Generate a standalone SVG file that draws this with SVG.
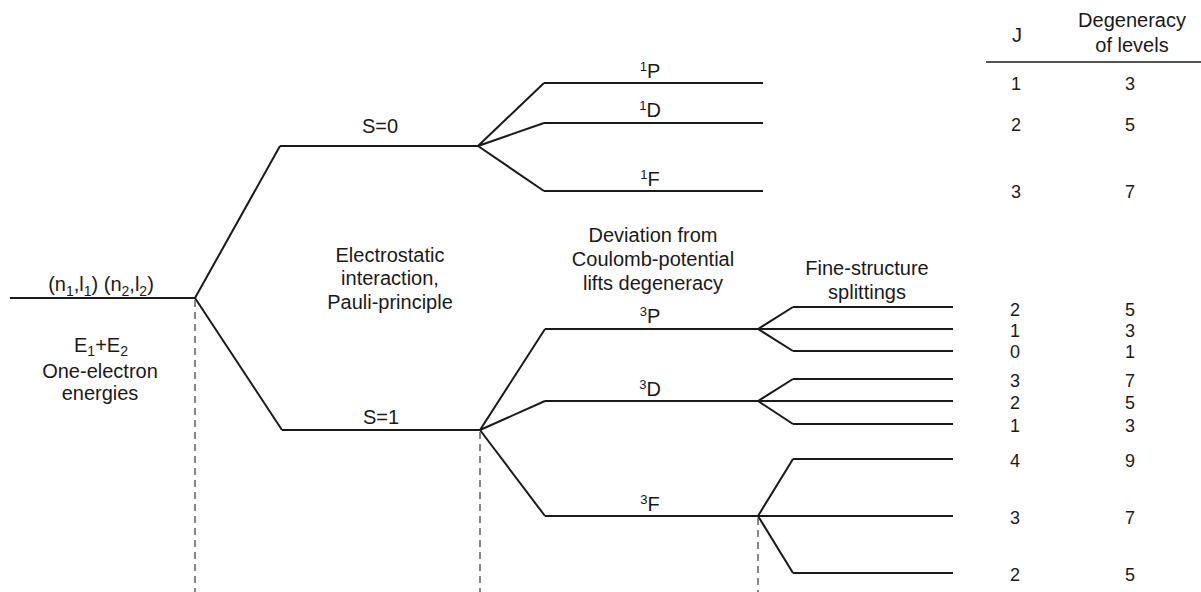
<svg xmlns="http://www.w3.org/2000/svg" width="1201" height="592" viewBox="0 0 1201 592">
<style>
.t{font-family:"Liberation Sans",Arial,sans-serif;font-size:20px;fill:#1a1a1a;text-anchor:middle}
.n{font-family:"Liberation Sans",Arial,sans-serif;font-size:18px;fill:#1a1a1a;text-anchor:middle}
.lv{stroke:#1a1a1a;stroke-width:2;fill:none;stroke-linejoin:miter}
.ds{stroke:#555;stroke-width:1.4;stroke-dasharray:7 5;fill:none}
.sup{font-size:14px}
.ss{font-size:13px}
</style>
<rect width="1201" height="592" fill="#fff"/>
<g id="connectors">
  <path class="lv" d="M195,298 L280,146 M195,298 L282,430"/>
  <path class="lv" d="M478,146 L544,83 M478,146 L544,123 M478,146 L544,191"/>
  <path class="lv" d="M480,430 L545,329 M480,430 L545,401 M480,430 L545,516"/>
  <path class="lv" d="M758,329 L793,307 M758,329 L793,351"/>
  <path class="lv" d="M758,401 L793,379 M758,401 L793,424"/>
  <path class="lv" d="M758,516 L793,459 M758,516 L793,573"/>
  <path class="ds" d="M195,300 V592 M480,432 V592 M758,518 V592"/>
</g>
<g id="config">
  <path class="lv" d="M10,298 H195"/>
  <text class="t" x="101" y="291">(n<tspan class="sup" dy="5">1</tspan><tspan dy="-5">,l</tspan><tspan class="sup" dy="5">1</tspan><tspan dy="-5">) (n</tspan><tspan class="sup" dy="5">2</tspan><tspan dy="-5">,l</tspan><tspan class="sup" dy="5">2</tspan><tspan dy="-5">)</tspan></text>
  <text class="t" x="101" y="352">E<tspan class="sup" dy="4">1</tspan><tspan dy="-4">+E</tspan><tspan class="sup" dy="4">2</tspan></text>
  <text class="t" x="100" y="378">One-electron</text>
  <text class="t" x="100" y="400">energies</text>
</g>
<g id="S0">
  <path class="lv" d="M280,146 H478"/>
  <text class="t" x="380" y="133">S=0</text>
</g>
<g id="S1">
  <path class="lv" d="M282,430 H480"/>
  <text class="t" x="381" y="424">S=1</text>
</g>
<g id="label-electrostatic">
  <text class="t" x="390" y="262">Electrostatic</text>
  <text class="t" x="390" y="285">interaction,</text>
  <text class="t" x="390" y="309">Pauli-principle</text>
</g>
<g id="label-deviation">
  <text class="t" x="653" y="242">Deviation from</text>
  <text class="t" x="653" y="266">Coulomb-potential</text>
  <text class="t" x="653" y="290">lifts degeneracy</text>
</g>
<g id="label-fine">
  <text class="t" x="867" y="275">Fine-structure</text>
  <text class="t" x="867" y="299">splittings</text>
</g>
<g id="t1P">
  <path class="lv" d="M544,83 H763"/>
  <text class="t" x="650" y="78"><tspan class="ss" dy="-7">1</tspan><tspan dy="7">P</tspan></text>
</g>
<g id="t1D">
  <path class="lv" d="M544,123 H763"/>
  <text class="t" x="650" y="117"><tspan class="ss" dy="-7">1</tspan><tspan dy="7">D</tspan></text>
</g>
<g id="t1F">
  <path class="lv" d="M544,191 H763"/>
  <text class="t" x="650" y="186"><tspan class="ss" dy="-7">1</tspan><tspan dy="7">F</tspan></text>
</g>
<g id="t3P">
  <path class="lv" d="M545,329 H953"/>
  <path class="lv" d="M793,307 H953 M793,351 H953"/>
  <text class="t" x="650" y="323"><tspan class="ss" dy="-7">3</tspan><tspan dy="7">P</tspan></text>
</g>
<g id="t3D">
  <path class="lv" d="M545,401 H953"/>
  <path class="lv" d="M793,379 H953 M793,424 H953"/>
  <text class="t" x="650" y="396"><tspan class="ss" dy="-7">3</tspan><tspan dy="7">D</tspan></text>
</g>
<g id="t3F">
  <path class="lv" d="M545,516 H953"/>
  <path class="lv" d="M793,459 H953 M793,573 H953"/>
  <text class="t" x="650" y="511"><tspan class="ss" dy="-7">3</tspan><tspan dy="7">F</tspan></text>
</g>
<g id="table">
  <text class="t" x="1017" y="42">J</text>
  <text class="t" x="1132" y="27">Degeneracy</text>
  <text class="t" x="1132" y="52">of levels</text>
  <path d="M986,62 H1201" stroke="#1a1a1a" stroke-width="1.6"/>
  <g>
    <text class="n" x="1016" y="90">1</text><text class="n" x="1130" y="90">3</text>
    <text class="n" x="1016" y="131">2</text><text class="n" x="1130" y="131">5</text>
    <text class="n" x="1016" y="198">3</text><text class="n" x="1130" y="198">7</text>
    <text class="n" x="1015" y="316">2</text><text class="n" x="1130" y="316">5</text>
    <text class="n" x="1015" y="337">1</text><text class="n" x="1130" y="337">3</text>
    <text class="n" x="1015" y="358">0</text><text class="n" x="1130" y="358">1</text>
    <text class="n" x="1015" y="387">3</text><text class="n" x="1130" y="387">7</text>
    <text class="n" x="1015" y="409">2</text><text class="n" x="1130" y="409">5</text>
    <text class="n" x="1015" y="432">1</text><text class="n" x="1130" y="432">3</text>
    <text class="n" x="1015" y="467">4</text><text class="n" x="1130" y="467">9</text>
    <text class="n" x="1015" y="524">3</text><text class="n" x="1130" y="524">7</text>
    <text class="n" x="1015" y="581">2</text><text class="n" x="1130" y="581">5</text>
  </g>
</g>
</svg>
